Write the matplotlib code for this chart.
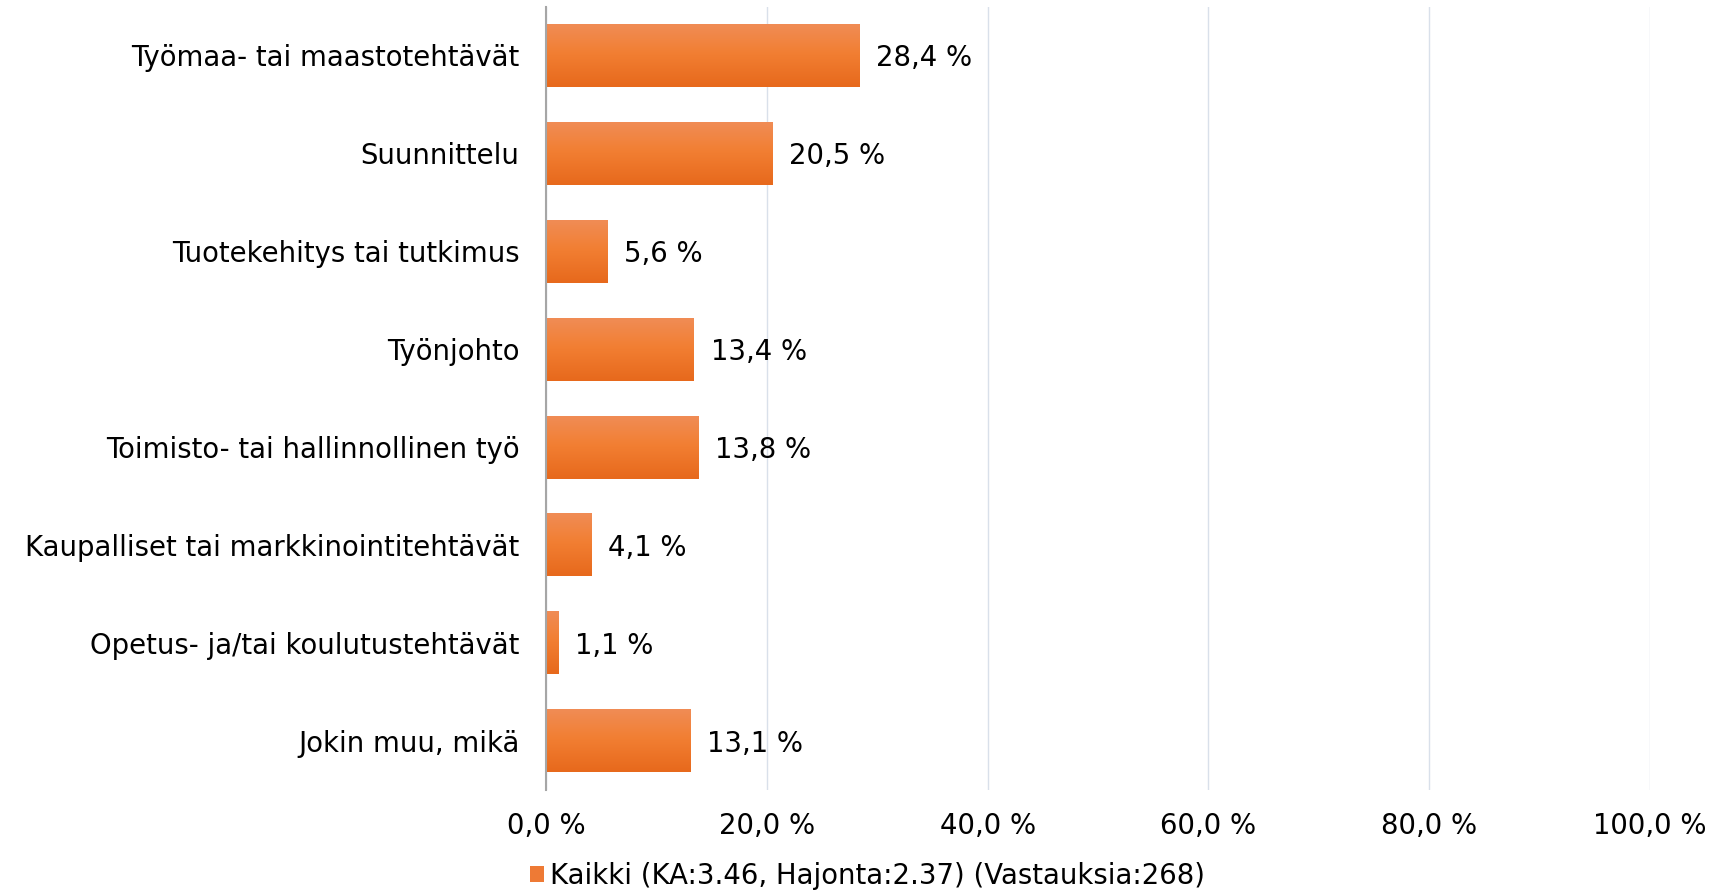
import numpy as np
import matplotlib
matplotlib.use("Agg")
import matplotlib.pyplot as plt
from matplotlib.patches import Patch
from matplotlib.colors import LinearSegmentedColormap

categories = [
    "Työmaa- tai maastotehtävät",
    "Suunnittelu",
    "Tuotekehitys tai tutkimus",
    "Työnjohto",
    "Toimisto- tai hallinnollinen työ",
    "Kaupalliset tai markkinointitehtävät",
    "Opetus- ja/tai koulutustehtävät",
    "Jokin muu, mikä",
]
values = [28.4, 20.5, 5.6, 13.4, 13.8, 4.1, 1.1, 13.1]
xticks = [0, 20, 40, 60, 80, 100]
legend_label = "Kaikki (KA:3.46, Hajonta:2.37) (Vastauksia:268)"

plt.rcParams['font.family'] = ['DejaVu Sans']
FS = 19.8

fig = plt.figure(figsize=(17.11, 8.92), dpi=100)
ax = fig.add_axes([546 / 1711, 1 - 790 / 892, (1650 - 546) / 1711, (790 - 6.5) / 892])

y = np.arange(len(categories))
bars = ax.barh(y, values, height=0.64, color="#EE7A35", zorder=2)

cmap = LinearSegmentedColormap.from_list(
    "og", [(0.0, "#F08C55"), (0.45, "#F27F33"), (1.0, "#E7691C")])
grad = np.linspace(0, 1, 64).reshape(-1, 1)
for p in bars:
    x0, y0, w, h = p.get_x(), p.get_y(), p.get_width(), p.get_height()
    ax.imshow(grad, cmap=cmap, aspect="auto", origin="upper",
              extent=(x0, x0 + w, y0 + h, y0), zorder=3, interpolation="bilinear")

for yi, v in zip(y, values):
    ax.annotate(f"{v:.1f} %".replace(".", ","), xy=(v, yi), xytext=(12, 0),
                textcoords="offset points", va="center_baseline", ha="left",
                fontsize=FS, color="black")

ax.set_xlim(0, 100)
ax.set_ylim(len(categories) - 0.5, -0.5)
ax.set_yticks(y)
ax.set_yticklabels(categories, fontsize=FS, color="black")
ax.set_xticks(xticks)
ax.set_xticklabels([f"{t:.1f} %".replace(".", ",") for t in xticks], fontsize=FS, color="black")
ax.tick_params(axis="y", length=0, pad=19)
ax.tick_params(axis="x", length=0, pad=16)
for s in ["top", "right", "bottom"]:
    ax.spines[s].set_visible(False)
ax.spines["left"].set_color("#A6A6A6")
ax.spines["left"].set_linewidth(1.5)
ax.spines["left"].set_zorder(4)
ax.grid(axis="x", color="#D9E0EA", linewidth=1.0, zorder=0)
ax.set_axisbelow(True)

handle = Patch(facecolor="#EE7A35", edgecolor="none")
fig.legend([handle], [legend_label], loc="center", bbox_to_anchor=(0.507, 0.018),
           frameon=False, fontsize=FS, handlelength=0.5, handleheight=0.5,
           handletextpad=0.2, borderpad=0.0)

fig.savefig("out.png", dpi=100)
